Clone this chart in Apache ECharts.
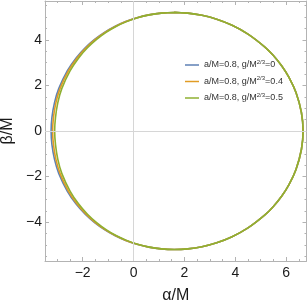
<!DOCTYPE html>
<html><head><meta charset="utf-8">
<script src="https://cdn.jsdelivr.net/npm/echarts@6/dist/echarts.min.js"></script>
<style>html,body{margin:0;padding:0;background:#fff}#c{width:308px;height:306px}</style>
</head><body><div id="c"></div>
<script>
// Series names
var seriesNames = ['a/M=0.8, g/M^{2/3}=0', 'a/M=0.8, g/M^{2/3}=0.4', 'a/M=0.8, g/M^{2/3}=0.5'];
// Tick labels
var xTicks = [-2, 0, 2, 4, 6];
var yTicks = [-4, -2, 0, 2, 4];
var xMinor = [-3, -2.5, -1.5, -1, -0.5, 0.5, 1, 1.5, 2.5, 3, 3.5, 4.5, 5, 5.5, 6.5];
var yMinor = [-5.5, -5, -4.5, -3.5, -3, -2.5, -1.5, -1, -0.5, 0.5, 1, 1.5, 2.5, 3, 3.5, 4.5, 5, 5.5];

// Shadow contours [alpha/M, beta/M] (closed loops)
var shadowG0 = [
 [1.6,5.196],[2.134,5.167],[2.691,5.072],[3.271,4.901],[3.875,4.636],[4.50,4.25],[5.154,3.692],[5.489,3.319],[5.829,2.848],[6.106,2.361],[6.387,1.686],[6.60,0.812],[6.665,0],
 [6.60,-0.812],[6.387,-1.686],[6.106,-2.361],[5.829,-2.848],[5.489,-3.319],[5.154,-3.692],[4.50,-4.25],[3.875,-4.636],[3.271,-4.901],[2.691,-5.072],[2.134,-5.167],[1.6,-5.196],
 [1.089,-5.169],[0.6,-5.091],[0.133,-4.966],[-0.31,-4.796],[-0.7375,-4.582],[-1.143,-4.323],[-1.53,-4.015],[-1.9,-3.648],[-2.256,-3.205],[-2.6,-2.646],[-2.94,-1.858],[-3.106,-1.246],[-3.207,-0.60],[-3.24,0],
 [-3.207,0.60],[-3.106,1.246],[-2.94,1.858],[-2.6,2.646],[-2.256,3.205],[-1.9,3.648],[-1.53,4.015],[-1.143,4.323],[-0.7375,4.582],[-0.31,4.796],[0.133,4.966],[0.6,5.091],[1.089,5.169],[1.6,5.196],[2.134,5.167]
];
var shadowG04 = [
 [1.6,5.196],[2.134,5.167],[2.691,5.072],[3.271,4.901],[3.875,4.636],[4.50,4.25],[5.154,3.692],[5.489,3.319],[5.829,2.848],[6.106,2.361],[6.387,1.686],[6.60,0.812],[6.665,0],
 [6.60,-0.812],[6.387,-1.686],[6.106,-2.361],[5.829,-2.848],[5.489,-3.319],[5.154,-3.692],[4.50,-4.25],[3.875,-4.636],[3.271,-4.901],[2.691,-5.072],[2.134,-5.167],[1.6,-5.196],
 [1.089,-5.169],[0.605,-5.091],[0.143,-4.966],[-0.295,-4.796],[-0.7175,-4.582],[-1.118,-4.323],[-1.50,-4.015],[-1.865,-3.648],[-2.216,-3.205],[-2.555,-2.646],[-2.89,-1.858],[-3.051,-1.246],[-3.147,-0.60],[-3.18,0],
 [-3.147,0.60],[-3.051,1.246],[-2.89,1.858],[-2.555,2.646],[-2.216,3.205],[-1.865,3.648],[-1.50,4.015],[-1.118,4.323],[-0.7175,4.582],[-0.295,4.796],[0.143,4.966],[0.605,5.091],[1.089,5.169],[1.6,5.196],[2.134,5.167]
];
var shadowG05 = [
 [1.6,5.196],[2.134,5.167],[2.691,5.072],[3.271,4.901],[3.875,4.636],[4.50,4.25],[5.154,3.692],[5.489,3.319],[5.829,2.848],[6.106,2.361],[6.387,1.686],[6.60,0.812],[6.665,0],
 [6.60,-0.812],[6.387,-1.686],[6.106,-2.361],[5.829,-2.848],[5.489,-3.319],[5.154,-3.692],[4.50,-4.25],[3.875,-4.636],[3.271,-4.901],[2.691,-5.072],[2.134,-5.167],[1.6,-5.196],
 [1.094,-5.169],[0.615,-5.091],[0.158,-4.966],[-0.27,-4.796],[-0.6875,-4.582],[-1.078,-4.323],[-1.45,-4.015],[-1.81,-3.648],[-2.156,-3.205],[-2.49,-2.646],[-2.82,-1.858],[-2.976,-1.246],[-3.067,-0.60],[-3.10,0],
 [-3.067,0.60],[-2.976,1.246],[-2.82,1.858],[-2.49,2.646],[-2.156,3.205],[-1.81,3.648],[-1.45,4.015],[-1.078,4.323],[-0.6875,4.582],[-0.27,4.796],[0.158,4.966],[0.615,5.091],[1.094,5.169],[1.6,5.196],[2.134,5.167]
];

var colors = ['#5E81B5', '#E19C24', '#8FB032'];
var frameColor = '#b3b3b3';
var FONT = 'Liberation Sans';

function minus(v){ return String(v).replace('-', '\u2212'); }

function xAx(pos, ticks, len, withLine, withLabel){
  return {
    type:'value', min:-3.48, max:6.8, position:pos, gridIndex:0, offset:0,
    axisLine:{show:withLine, onZero:false, lineStyle:{color:frameColor, width:1}},
    axisTick:{show:true, inside:true, length:len, customValues:ticks, lineStyle:{color:frameColor}},
    axisLabel:{show:withLabel, customValues:ticks, formatter:minus, fontSize:14, color:'#1a1a1a', fontFamily:FONT, margin:5},
    splitLine:{show:false}
  };
}
function yAx(pos, ticks, len, withLine, withLabel){
  return {
    type:'value', min:-5.7, max:5.7, position:pos, gridIndex:0, offset:0,
    axisLine:{show:withLine, onZero:false, lineStyle:{color:frameColor, width:1}},
    axisTick:{show:true, inside:true, length:len, customValues:ticks, lineStyle:{color:frameColor}},
    axisLabel:{show:withLabel, customValues:ticks, formatter:minus, fontSize:14, color:'#1a1a1a', fontFamily:FONT, margin:3},
    splitLine:{show:false}
  };
}

var xAxes = [xAx('bottom', xTicks, 4, true, true), xAx('bottom', xMinor, 2, false, false), xAx('top', xTicks, 4, true, false), xAx('top', xMinor, 2, false, false)];
xAxes[0].name = 'α/M'; xAxes[0].nameLocation = 'middle'; xAxes[0].nameGap = 27;
xAxes[0].nameTextStyle = {fontSize:16, color:'#1a1a1a', fontFamily:FONT};
var yAxes = [yAx('left', yTicks, 4, true, true), yAx('left', yMinor, 2, false, false), yAx('right', yTicks, 4, true, false), yAx('right', yMinor, 2, false, false)];
yAxes[0].name = 'β/M'; yAxes[0].nameLocation = 'middle'; yAxes[0].nameGap = 26;
yAxes[0].nameTextStyle = {fontSize:16, color:'#1a1a1a', fontFamily:FONT};

var datasets = [shadowG0, shadowG04, shadowG05];
var series = [{
  type:'line', data:[], silent:true, z:1, xAxisIndex:0, yAxisIndex:0,
  markLine:{silent:true, symbol:'none', label:{show:false}, animation:false,
    lineStyle:{color:'#d6d6d6', width:1, type:'solid'},
    data:[{xAxis:0},{yAxis:0}]}
}];
datasets.forEach(function(d,i){
  series.push({name:seriesNames[i], type:'line', data:d, smooth:0.4, showSymbol:false, symbol:'none',
    xAxisIndex:0, yAxisIndex:0,
    lineStyle:{color:colors[i], width:1.6}, itemStyle:{color:colors[i]}, z:2+i, animation:false});
});

var chart = echarts.init(document.getElementById('c'), null, {renderer:'canvas'});
chart.setOption({
  animation:false,
  color:colors,
  grid:{left:45, right:1.5, top:1, bottom:45, containLabel:false, outerBoundsMode:'none'},
  xAxis:xAxes, yAxis:yAxes,
  legend:{
    orient:'vertical', left:180, top:54, itemWidth:14, itemHeight:1.5, itemGap:6, icon:'rect',
    data:seriesNames,
    formatter:function(n){ return n.replace('^{2/3}', '{sup|2/3}'); },
    textStyle:{fontSize:9, color:'#333', fontFamily:FONT, padding:[0,0,0,0],
      rich:{sup:{fontSize:6, color:'#333', fontFamily:FONT, padding:[0,0,6,0]}}}
  },
  series:series
});
</script></body></html>
